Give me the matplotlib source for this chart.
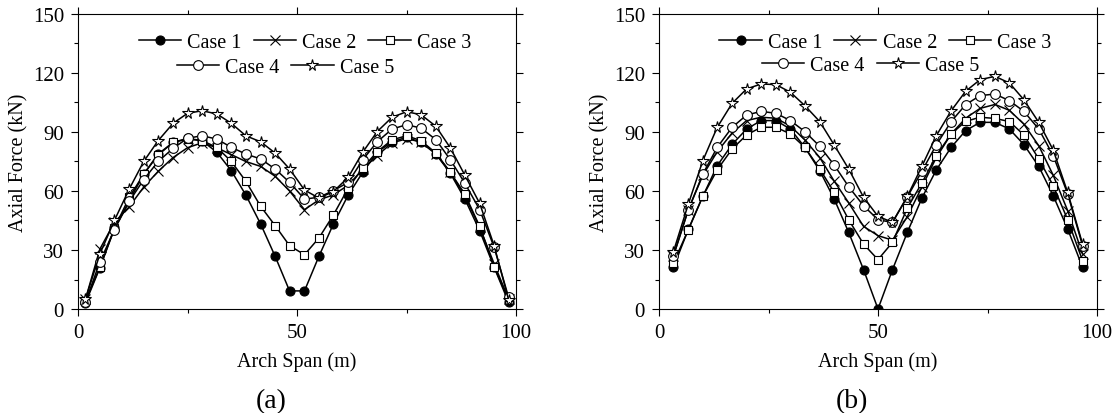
import matplotlib
matplotlib.use("Agg")
import matplotlib.pyplot as plt
from matplotlib.ticker import MultipleLocator

plt.rcParams["font.family"] = ["Liberation Serif", "DejaVu Serif"]
plt.rcParams["mathtext.fontset"] = "stix"

# span positions (m)
span_a = [1.7, 5.0, 8.3, 11.7, 15.0, 18.3, 21.7, 25.0, 28.3, 31.7, 35.0, 38.3, 41.7, 45.0, 48.3,
          51.7, 55.0, 58.3, 61.7, 65.0, 68.3, 71.7, 75.0, 78.3, 81.7, 85.0, 88.3, 91.7, 95.0, 98.3]
span_b = [3.3, 6.7, 10.0, 13.3, 16.7, 20.0, 23.3, 26.7, 30.0, 33.3, 36.7, 40.0, 43.3, 46.7, 50.0,
          53.3, 56.7, 60.0, 63.3, 66.7, 70.0, 73.3, 76.7, 80.0, 83.3, 86.7, 90.0, 93.3, 96.7]

# panel (a) axial force (kN)
a_case1 = [3.0, 21.0, 40.7, 55.0, 68.6, 78.8, 84.7, 86.8, 85.6, 79.7, 70.3, 58.0, 43.2, 26.8, 9.2,
           9.2, 26.8, 43.2, 58.0, 69.5, 79.7, 85.0, 87.3, 84.7, 78.8, 69.0, 56.0, 39.8, 21.2, 3.4]
a_case2 = [5.0, 30.5, 44.0, 52.0, 62.0, 70.0, 77.0, 82.0, 84.5, 82.0, 78.5, 75.0, 72.5, 67.5, 60.0,
           50.5, 55.5, 58.0, 63.0, 71.0, 78.0, 84.5, 86.5, 85.0, 79.0, 69.5, 57.5, 41.5, 23.0, 5.0]
a_case3 = [4.2, 21.2, 41.0, 56.8, 68.6, 78.3, 84.7, 86.4, 85.6, 82.2, 75.0, 65.0, 52.2, 42.4, 32.2,
           27.6, 36.1, 47.8, 61.5, 71.7, 80.0, 86.0, 88.1, 85.6, 79.3, 69.5, 58.5, 42.0, 21.5, 4.7]
a_case4 = [3.4, 24.0, 40.3, 54.7, 65.8, 75.0, 81.7, 86.8, 88.1, 86.4, 82.2, 78.8, 76.3, 71.2, 64.4,
           55.9, 56.8, 60.2, 64.4, 75.9, 85.0, 91.5, 93.7, 92.0, 86.1, 75.9, 64.0, 50.5, 31.4, 5.9]
a_case5 = [5.0, 28.0, 45.0, 61.0, 75.0, 85.6, 94.4, 99.5, 100.8, 99.2, 94.4, 88.1, 85.0, 79.3, 71.2,
           60.5, 56.4, 59.7, 67.0, 79.7, 90.2, 97.5, 100.3, 98.8, 92.9, 81.9, 68.1, 53.7, 32.2, 4.7]

# panel (b) axial force (kN)
b_case1 = [21.2, 40.5, 57.3, 72.9, 83.7, 91.5, 95.8, 95.8, 91.5, 82.2, 70.3, 55.9, 39.0, 20.0, 0.0,
           20.0, 39.0, 56.3, 70.7, 82.2, 90.7, 94.9, 94.9, 91.5, 83.6, 72.5, 57.6, 40.7, 21.2]
b_case2 = [27.0, 50.5, 68.0, 80.0, 89.5, 95.8, 97.5, 97.0, 93.0, 86.0, 77.0, 65.0, 54.0, 42.0, 37.3,
           35.0, 47.0, 62.0, 77.0, 89.0, 97.0, 102.0, 104.0, 101.0, 94.0, 83.0, 68.0, 50.0, 28.0]
b_case3 = [23.4, 40.3, 57.3, 70.8, 81.4, 88.5, 92.4, 92.4, 89.0, 82.2, 71.2, 59.3, 45.4, 33.0, 25.1,
           33.9, 51.4, 64.0, 78.0, 89.0, 95.4, 97.5, 96.9, 95.3, 88.5, 76.3, 62.7, 45.4, 24.6]
b_case4 = [27.1, 50.5, 68.6, 82.2, 92.4, 98.6, 100.5, 99.5, 95.8, 90.2, 82.7, 73.2, 62.2, 52.5, 45.4,
           44.0, 57.0, 70.0, 83.4, 95.3, 103.9, 108.5, 109.3, 105.9, 100.5, 91.5, 78.0, 58.5, 32.2]
b_case5 = [29.2, 53.4, 75.4, 92.4, 104.6, 111.9, 114.4, 114.1, 110.2, 103.4, 95.3, 83.4, 71.2, 56.8, 47.1,
           44.1, 57.3, 72.5, 88.1, 100.8, 110.7, 116.6, 118.3, 114.9, 106.4, 94.9, 80.8, 59.3, 33.0]

labels = ["Case 1", "Case 2", "Case 3", "Case 4", "Case 5"]
styles = [
    dict(marker="o", markerfacecolor="black", markersize=6.5),
    dict(marker="x", markerfacecolor="none", markersize=6.5),
    dict(marker="s", markerfacecolor="white", markersize=6),
    dict(marker="o", markerfacecolor="white", markersize=7),
    dict(marker="*", markerfacecolor="white", markersize=8.5),
]

FS = 14.5


def draw_panel(ax, x, series, tag, leg_pos):
    handles = []
    for y, lab, st in zip(series, labels, styles):
        h, = ax.plot(x, y, color="black", lw=1.1, markeredgecolor="black",
                     markeredgewidth=0.8, label=lab, **st)
        handles.append(h)

    ax.set_xlim(0, 100)
    ax.set_ylim(0, 150)
    ax.xaxis.set_major_locator(MultipleLocator(50))
    ax.xaxis.set_minor_locator(MultipleLocator(25))
    ax.yaxis.set_major_locator(MultipleLocator(30))
    ax.yaxis.set_minor_locator(MultipleLocator(15))
    ax.tick_params(which="both", direction="out", top=True, right=True,
                   labelsize=15, width=0.8)
    ax.tick_params(which="major", length=5, pad=5)
    ax.tick_params(which="minor", length=3)
    for sp in ax.spines.values():
        sp.set_linewidth(0.8)

    ax.set_xlabel("Arch Span (m)", fontsize=FS, labelpad=7)
    ax.set_ylabel("Axial Force (kN)", fontsize=FS, labelpad=3)
    ax.text(0.44, -0.31, tag, transform=ax.transAxes, ha="center", va="center", fontsize=20)

    common = dict(frameon=False, fontsize=FS, handlelength=2.1, handletextpad=0.3,
                  columnspacing=0.6, borderpad=0, borderaxespad=0, loc="center")
    leg1 = ax.legend(handles[:3], labels[:3], ncol=3, bbox_to_anchor=leg_pos[0], **common)
    ax.add_artist(leg1)
    ax.legend(handles[3:], labels[3:], ncol=2, bbox_to_anchor=leg_pos[1], **common)


fig = plt.figure(figsize=(11.16, 4.14), dpi=100)
ax_a = fig.add_axes([0.0699, 0.2512, 0.3925, 0.7126])
ax_b = fig.add_axes([0.5905, 0.2512, 0.3925, 0.7126])

draw_panel(ax_a, span_a, [a_case1, a_case2, a_case3, a_case4, a_case5], "(a)",
           [(0.518, 0.905), (0.473, 0.82)])
draw_panel(ax_b, span_b, [b_case1, b_case2, b_case3, b_case4, b_case5], "(b)",
           [(0.517, 0.905), (0.483, 0.827)])

fig.savefig("out.png", dpi=100)
